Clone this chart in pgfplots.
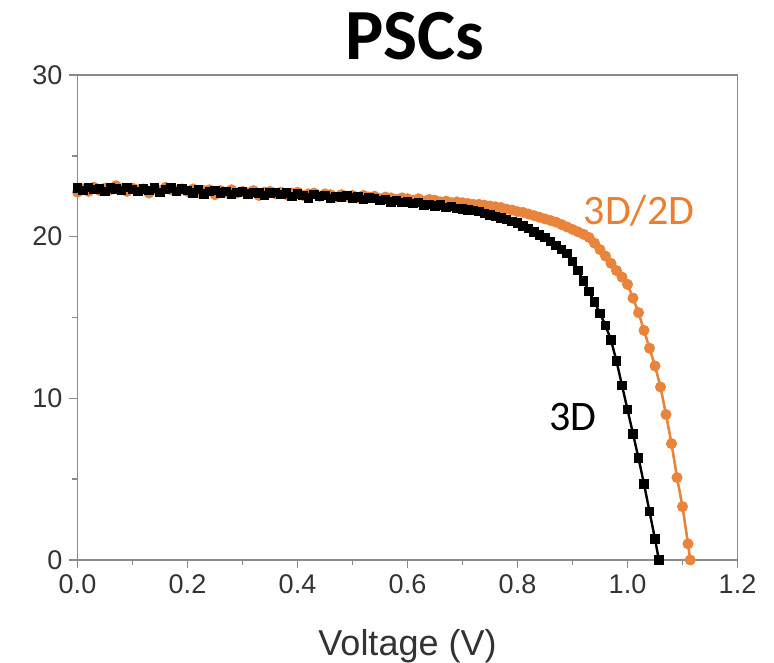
\documentclass[border=0pt]{standalone}
\usepackage{pgfplots}
\pgfplotsset{compat=1.18}
\usepackage{fontspec}
\setmainfont{Liberation Sans}
\newfontfamily\carlito{Carlito}
\definecolor{orgline}{HTML}{E8843C}
\definecolor{orgtext}{HTML}{ED7D31}
\definecolor{axgray}{HTML}{8A8A8A}
\definecolor{lblgray}{HTML}{333333}
\begin{document}
\begin{tikzpicture}
\begin{axis}[
  scale only axis,
  width=330pt, height=242.5pt,
  xmin=0, xmax=1.2, ymin=0, ymax=30,
  xtick={0,0.2,...,1.2}, ytick={0,10,20,30},
  minor x tick num=1, minor y tick num=1,
  tick align=outside, tick pos=left,
  major tick length=4pt, minor tick length=2.5pt,
  axis line style={axgray, line width=0.8pt},
  every tick/.style={axgray, line width=0.8pt},
  /pgf/number format/assume math mode=true,
  xticklabel style={/pgf/number format/fixed, /pgf/number format/fixed zerofill, /pgf/number format/precision=1, font=\fontsize{13.5pt}{15pt}\selectfont, text=lblgray},
  yticklabel style={font=\fontsize{13.5pt}{15pt}\selectfont, text=lblgray},
  xlabel={Voltage (V)},
  xlabel style={at={(axis description cs:0.5,0)}, anchor=base, yshift=-47.5pt, font=\fontsize{18pt}{20pt}\selectfont, text=lblgray},
  clip=false,
]
\coordinate (O) at (rel axis cs:0,0);
\addplot[orgline, line width=1.3pt, mark=*, mark size=2.5pt, mark options={fill=orgline, draw=orgline, line width=0.5pt}] coordinates {
(0.00,22.75)(0.01,22.95)(0.02,22.80)(0.03,23.05)(0.04,22.85)(0.05,23.00)(0.06,22.90)(0.07,23.15)(0.08,22.95)(0.09,22.80)
(0.10,23.00)(0.11,22.90)(0.12,22.95)(0.13,22.70)(0.14,22.95)(0.15,22.85)(0.16,23.05)(0.17,22.90)(0.18,22.85)(0.19,22.95)
(0.20,22.80)(0.21,22.95)(0.22,22.75)(0.23,22.85)(0.24,22.90)(0.25,22.60)(0.26,22.85)(0.27,22.75)(0.28,22.90)(0.29,22.70)
(0.30,22.80)(0.31,22.70)(0.32,22.85)(0.33,22.55)(0.34,22.75)(0.35,22.80)(0.36,22.65)(0.37,22.75)(0.38,22.60)(0.39,22.70)
(0.40,22.75)(0.41,22.55)(0.42,22.65)(0.43,22.70)(0.44,22.50)(0.45,22.65)(0.46,22.60)(0.47,22.45)(0.48,22.60)(0.49,22.50)
(0.50,22.55)(0.51,22.40)(0.52,22.55)(0.53,22.45)(0.54,22.50)(0.55,22.35)(0.56,22.45)(0.57,22.40)(0.58,22.30)(0.59,22.40)
(0.60,22.35)(0.61,22.25)(0.62,22.35)(0.63,22.20)(0.64,22.30)(0.65,22.25)(0.66,22.15)(0.67,22.20)(0.68,22.10)(0.69,22.15)
(0.70,22.10)(0.71,22.05)(0.72,22.00)(0.73,22.00)(0.74,21.95)(0.75,21.90)(0.76,21.85)(0.77,21.80)(0.78,21.70)(0.79,21.65)
(0.80,21.55)(0.81,21.50)(0.82,21.40)(0.83,21.30)(0.84,21.20)(0.85,21.10)(0.86,21.00)(0.87,20.90)(0.88,20.75)(0.89,20.60)
(0.90,20.45)(0.91,20.30)(0.92,20.15)(0.93,19.95)(0.94,19.60)(0.95,19.20)(0.96,18.80)(0.97,18.35)(0.98,17.90)(0.99,17.50)
(1.00,17.05)(1.01,16.20)(1.02,15.30)(1.03,14.20)(1.04,13.10)(1.05,12.00)(1.06,10.70)(1.07,9.00)(1.08,7.20)(1.09,5.10)
(1.10,3.30)(1.11,1.00)(1.114,0)
};
\addplot[black, line width=1.2pt, mark=square*, mark size=2.1pt, mark options={fill=black, draw=black, line width=0.5pt}] coordinates {
(0.00,23.00)(0.01,22.85)(0.02,23.05)(0.03,22.90)(0.04,22.95)(0.05,22.80)(0.06,23.00)(0.07,22.95)(0.08,22.85)(0.09,23.05)
(0.10,22.90)(0.11,22.80)(0.12,22.95)(0.13,22.85)(0.14,23.00)(0.15,22.75)(0.16,22.90)(0.17,23.00)(0.18,22.80)(0.19,22.95)
(0.20,22.85)(0.21,22.70)(0.22,22.90)(0.23,22.65)(0.24,22.80)(0.25,22.85)(0.26,22.70)(0.27,22.80)(0.28,22.60)(0.29,22.75)
(0.30,22.80)(0.31,22.65)(0.32,22.75)(0.33,22.70)(0.34,22.55)(0.35,22.70)(0.36,22.75)(0.37,22.60)(0.38,22.70)(0.39,22.50)
(0.40,22.65)(0.41,22.55)(0.42,22.40)(0.43,22.60)(0.44,22.50)(0.45,22.55)(0.46,22.35)(0.47,22.50)(0.48,22.45)(0.49,22.55)
(0.50,22.40)(0.51,22.45)(0.52,22.30)(0.53,22.40)(0.54,22.35)(0.55,22.25)(0.56,22.30)(0.57,22.15)(0.58,22.25)(0.59,22.10)
(0.60,22.15)(0.61,22.05)(0.62,22.10)(0.63,21.95)(0.64,22.00)(0.65,21.90)(0.66,21.95)(0.67,21.80)(0.68,21.85)(0.69,21.75)
(0.70,21.70)(0.71,21.65)(0.72,21.60)(0.73,21.55)(0.74,21.45)(0.75,21.35)(0.76,21.25)(0.77,21.15)(0.78,21.05)(0.79,20.95)
(0.80,20.85)(0.81,20.65)(0.82,20.50)(0.83,20.30)(0.84,20.10)(0.85,19.95)(0.86,19.70)(0.87,19.45)(0.88,19.20)(0.89,18.95)
(0.90,18.45)(0.91,17.90)(0.92,17.25)(0.93,16.60)(0.94,15.95)(0.95,15.25)(0.96,14.50)(0.97,13.60)(0.98,12.30)(0.99,10.80)
(1.00,9.30)(1.01,7.80)(1.02,6.30)(1.03,4.70)(1.04,3.00)(1.05,1.30)(1.057,0)
};
\node[text=orgtext, font=\carlito\fontsize{21pt}{24pt}\selectfont] at (axis cs:1.021,21.6) {3D/2D};
\node[text=black, font=\carlito\fontsize{21pt}{24pt}\selectfont] at (axis cs:0.901,8.85) {3D};
\node[anchor=base, font=\carlito\bfseries\fontsize{36pt}{40pt}\selectfont] at (axis description cs:0.511,1) [yshift=7.5pt] {PSCs};
\end{axis}
\pgfresetboundingbox
\path[use as bounding box] (O) ++(-38.75pt,-51pt) rectangle ++(387pt,331pt);
\end{tikzpicture}
\end{document}
